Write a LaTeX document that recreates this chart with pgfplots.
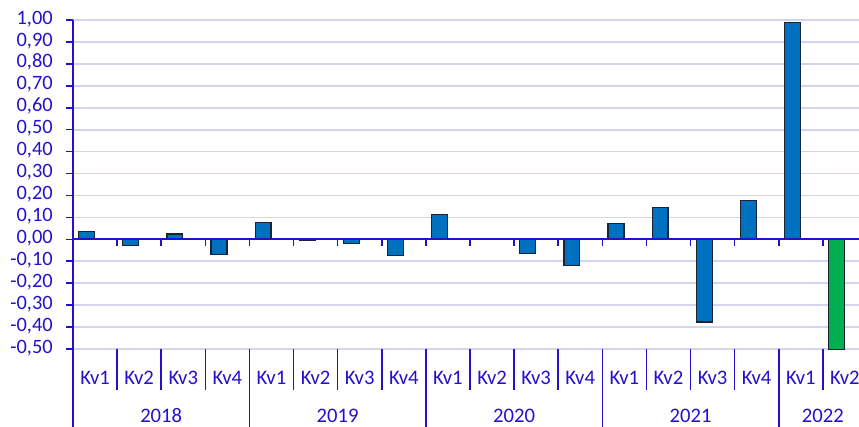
\documentclass[border=0pt]{standalone}
\usepackage{pgfplots}
\pgfplotsset{compat=1.18}
\usepackage{fontspec}
\setmainfont{Carlito}

\definecolor{axisblue}{RGB}{38,16,204}
\definecolor{gridlav}{RGB}{212,212,238}
\definecolor{barblue}{RGB}{0,112,192}
\definecolor{bargreen}{RGB}{0,176,80}
\definecolor{barline}{RGB}{25,35,50}

\begin{document}
\begin{tikzpicture}
\begin{axis}[
  scale only axis,
  width=589.5pt, height=246.75pt,
  xmin=-0.5, xmax=17.32,
  ymin=-0.5, ymax=1.0,
  clip=false,
  axis line style={draw=none},
  xtick=\empty,
  ytick={-0.5,-0.4,-0.3,-0.2,-0.1,0,0.1,0.2,0.3,0.4,0.5,0.6,0.7,0.8,0.9,1.0},
  yticklabels={{-0,50},{-0,40},{-0,30},{-0,20},{-0,10},{0,00},{0,10},{0,20},
    {0,30},{0,40},{0,50},{0,60},{0,70},{0,80},{0,90},{1,00}},
  ytick pos=left,
  tick align=outside,
  major tick length=5.25pt,
  tick style={axisblue, line width=1.2pt},
  ymajorgrids=true,
  grid style={gridlav, line width=1.3pt},
  yticklabel style={font=\fontsize{15.3}{18}\selectfont, text=axisblue,
    anchor=east, inner sep=0pt, xshift=-9.75pt, text height=1.3ex, text depth=0pt},
  ybar,
  bar width=0.36,
  bar shift=-0.19,
]
% 2018 Kv1 ... 2022 Kv1
\addplot [fill=barblue, draw=barline, line width=0.9pt]
  coordinates {
   (0,0.036)(1,-0.029)(2,0.024)(3,-0.068)
   (4,0.076)(5,-0.005)(6,-0.020)(7,-0.075)
   (8,0.115)(9,0.004)(10,-0.063)(11,-0.120)
   (12,0.071)(13,0.144)(14,-0.377)(15,0.176)
   (16,0.990)
  };
% 2022 Kv2
\addplot [fill=bargreen, draw=barline, line width=0.9pt]
  coordinates {(17,-0.503)};

% axes drawn by hand
\draw [axisblue, line width=1.3pt] (axis cs:-0.5,1) -- ([yshift=-58.5pt]axis cs:-0.5,-0.5);
\draw [axisblue, line width=1.3pt] (axis cs:-0.5,0) -- (axis cs:17.32,0);
\pgfplotsinvokeforeach{0,...,16}{
  \draw [axisblue, line width=1.2pt] (axis cs:#1+0.5,0) -- ([yshift=-5pt]axis cs:#1+0.5,0);
  \draw [axisblue, line width=1.2pt] (axis cs:#1+0.5,-0.5) -- ([yshift=-30.75pt]axis cs:#1+0.5,-0.5);
}
\pgfplotsinvokeforeach{3.5,7.5,11.5,15.5}{
  \draw [axisblue, line width=1.2pt] (axis cs:#1,-0.5) -- ([yshift=-58.5pt]axis cs:#1,-0.5);
}
% category labels
\pgfplotsinvokeforeach{0,...,17}{
  \node [text=axisblue, font=\fontsize{15.5}{18}\selectfont, anchor=center]
    at ([yshift=-21.75pt]axis cs:#1,-0.5) {Kv\pgfmathparse{int(mod(#1,4)+1)}\pgfmathresult};
}
\tikzset{yearlab/.style={text=axisblue, font=\fontsize{15.5}{18}\selectfont, inner sep=0pt, anchor=base}}
\node [yearlab] at ([yshift=-55.5pt]axis cs:1.5,-0.5) {2018};
\node [yearlab] at ([yshift=-55.5pt]axis cs:5.5,-0.5) {2019};
\node [yearlab] at ([yshift=-55.5pt]axis cs:9.5,-0.5) {2020};
\node [yearlab] at ([yshift=-55.5pt]axis cs:13.5,-0.5) {2021};
\node [yearlab] at ([yshift=-55.5pt]axis cs:16.5,-0.5) {2022};
\coordinate (bl) at (rel axis cs:0,0);
\coordinate (tr) at (rel axis cs:1,1);
\end{axis}
\pgfresetboundingbox
\path [use as bounding box] ([shift={(-54.75pt,-58.5pt)}]bl) rectangle ([shift={(0pt,15pt)}]tr);
\end{tikzpicture}
\end{document}
